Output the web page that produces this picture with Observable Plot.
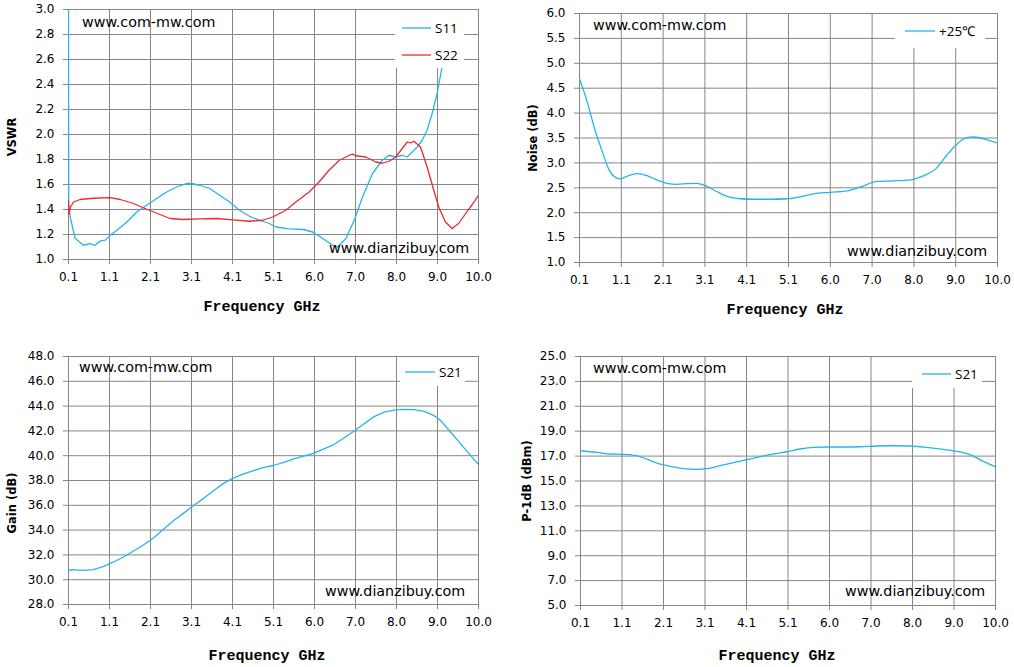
<!DOCTYPE html>
<html>
<head>
<meta charset="utf-8">
<script src="https://cdn.jsdelivr.net/npm/d3@7"></script>
<script src="https://cdn.jsdelivr.net/npm/@observablehq/plot@0.6"></script>
<style>
  html, body { margin: 0; padding: 0; background: #fff; }
  #wrap { position: relative; width: 1014px; height: 667px; overflow: hidden; background: #fff; }
  .panel { position: absolute; width: 507px; height: 333px; }
  .panel svg g[aria-label$="tick"] path { stroke: #868686; }
  .wm { font-family: "DejaVu Sans", sans-serif; font-size: 14.3px; fill: #000; }
  .xt { font-family: "Liberation Mono", monospace; font-weight: bold; font-size: 15px; fill: #000; }
  .yt { font-family: "DejaVu Sans", sans-serif; font-weight: bold; font-size: 11.5px; fill: #000; }
  .lg { font-family: "Open Sans", sans-serif; font-size: 13.5px; fill: #000; }
</style>
</head>
<body>
<div id="wrap"></div>
<script>
// ---- axis tick labels ----
const xTickLabels = ["0.1","1.1","2.1","3.1","4.1","5.1","6.0","7.0","8.0","9.0","10.0"];
const vswrTicks = [1.0,1.2,1.4,1.6,1.8,2.0,2.2,2.4,2.6,2.8,3.0];
const noiseTicks = [1.0,1.5,2.0,2.5,3.0,3.5,4.0,4.5,5.0,5.5,6.0];
const gainTicks = [28,30,32,34,36,38,40,42,44,46,48];
const p1dbTicks = [5,7,9,11,13,15,17,19,21,23,25];

// ---- VSWR ----
const s11Freq = [0.1,0.105,0.14,0.26,0.46,0.62,0.74,0.87,0.99,1.11,1.27,1.51,1.75,1.99,2.23,2.47,2.71,2.95,3.07,3.27,3.51,3.75,3.99,4.23,4.47,4.71,4.95,5.11,5.43,5.76,6.0,6.24,6.48,6.6,6.8,7.0,7.2,7.44,7.68,7.84,8.0,8.16,8.28,8.4,8.52,8.64,8.76,8.88,9.0,9.12,9.24,9.3,9.36];
const s11Vswr = [3.2,1.45,1.34,1.17,1.114,1.127,1.114,1.149,1.155,1.195,1.234,1.30,1.38,1.434,1.488,1.54,1.58,1.608,1.608,1.594,1.568,1.514,1.46,1.394,1.346,1.314,1.288,1.26,1.245,1.24,1.22,1.168,1.114,1.10,1.168,1.314,1.50,1.688,1.794,1.834,1.82,1.834,1.82,1.86,1.90,1.954,2.034,2.168,2.328,2.54,2.86,3.0,3.15];
const s22Freq = [0.1,0.105,0.15,0.22,0.38,0.7,1.11,1.35,1.67,1.99,2.31,2.55,2.87,3.27,3.67,4.07,4.47,4.79,5.03,5.35,5.59,5.91,6.15,6.39,6.64,6.88,6.96,7.04,7.28,7.52,7.68,7.84,8.0,8.16,8.28,8.36,8.44,8.6,8.76,8.92,9.04,9.2,9.36,9.52,9.69,9.85,10.0];
const s22Vswr = [1.47,1.36,1.42,1.46,1.48,1.49,1.495,1.48,1.448,1.402,1.36,1.328,1.32,1.325,1.328,1.317,1.306,1.314,1.34,1.394,1.46,1.54,1.62,1.714,1.794,1.834,1.843,1.83,1.82,1.78,1.77,1.786,1.82,1.888,1.94,1.932,1.946,1.90,1.74,1.554,1.42,1.30,1.248,1.288,1.368,1.44,1.514];

// ---- Noise ----
const noiseFreq = [0.1,0.27,0.47,0.63,0.79,0.95,1.06,1.22,1.46,1.70,1.93,2.17,2.41,2.65,2.88,3.12,3.36,3.59,3.91,4.23,4.62,5.02,5.33,5.65,6.05,6.44,6.76,7.15,7.55,7.94,8.26,8.54,8.73,8.97,9.2,9.4,9.6,9.84,10.0];
const noiseDb = [4.69,4.26,3.65,3.25,2.88,2.71,2.68,2.73,2.785,2.745,2.66,2.59,2.57,2.585,2.59,2.53,2.42,2.33,2.28,2.27,2.27,2.28,2.32,2.38,2.41,2.44,2.52,2.63,2.64,2.66,2.745,2.88,3.08,3.32,3.48,3.52,3.50,3.44,3.40];

// ---- Gain ----
const gainFreq = [0.1,0.18,0.46,0.70,0.95,1.19,1.43,1.67,1.91,2.16,2.40,2.64,2.88,3.12,3.37,3.61,3.85,4.09,4.33,4.57,4.82,5.06,5.30,5.54,5.78,6.03,6.27,6.51,6.75,6.99,7.23,7.48,7.72,7.96,8.20,8.44,8.69,8.93,9.09,9.33,9.57,9.81,10.0];
const gainDb = [30.71,30.82,30.76,30.82,31.08,31.43,31.83,32.32,32.8,33.39,34.09,34.78,35.37,35.99,36.58,37.2,37.79,38.21,38.54,38.8,39.05,39.23,39.47,39.74,39.96,40.2,40.55,40.9,41.43,41.97,42.56,43.15,43.52,43.68,43.74,43.71,43.58,43.23,42.83,41.89,40.95,40.01,39.29];

// ---- P-1dB ----
const p1dbFreq = [0.1,0.49,0.81,1.13,1.44,1.68,1.92,2.24,2.56,2.88,3.11,3.43,3.75,4.07,4.39,4.70,5.02,5.34,5.66,5.98,6.37,6.77,7.17,7.57,7.96,8.36,8.76,9.08,9.39,9.71,10.0];
const p1dbDbm = [17.43,17.3,17.17,17.14,17.03,16.76,16.44,16.18,15.99,15.94,15.99,16.23,16.47,16.71,16.95,17.17,17.35,17.57,17.7,17.73,17.73,17.75,17.81,17.83,17.81,17.7,17.54,17.38,17.11,16.58,16.15];

const CYAN = "#27b4ea", RED = "#ee2a2a", GRID = "#868686";

// evenly spaced category-like ticks from 0.1 to 10 GHz
const xTicks = xTickLabels.map((_, i) => 0.1 + i * 0.99);
const xLabelOf = new Map(xTicks.map((t, i) => [t, xTickLabels[i]]));
const zip = (xs, ys) => xs.map((x, i) => ({x, y: ys[i]}));

function panel({left, top, margins, yTicks, yFmt, series, curve, legend, wm, xTitle, yTitle}) {
  const [mt, mr, mb, ml] = margins;
  const marks = [
    Plot.gridX(xTicks, {stroke: GRID, strokeOpacity: 1, strokeWidth: 1}),
    Plot.gridY(yTicks, {stroke: GRID, strokeOpacity: 1, strokeWidth: 1}),
    Plot.axisX(xTicks, {tickSize: 5, tickPadding: 8, tickFormat: d => xLabelOf.get(d), fontSize: 12, label: null}),
    Plot.axisY(yTicks, {tickSize: 5, tickPadding: 9, tickFormat: yFmt, fontSize: 12, label: null}),
    ...series.map(s => Plot.line(zip(s.x, s.y), {x: "x", y: "y", stroke: s.color, strokeWidth: 1.3, curve, clip: true}))
  ];
  const svg = Plot.plot({
    width: 507, height: 333,
    marginTop: mt, marginRight: mr, marginBottom: mb, marginLeft: ml,
    x: {domain: [0.1, 10], axis: null, label: null},
    y: {domain: [yTicks[0], yTicks[yTicks.length - 1]], axis: null, label: null},
    style: {fontFamily: "DejaVu Sans, sans-serif", fontSize: "12px", color: "#000", background: "transparent", overflow: "visible"},
    marks
  });
  const div = document.createElement("div");
  div.className = "panel";
  div.style.left = left + "px";
  div.style.top = top + "px";
  div.appendChild(svg);
  document.getElementById("wrap").appendChild(div);

  const g = d3.select(svg).append("g").attr("text-anchor", "start");
  // legend box
  g.append("rect").attr("x", legend.box[0]).attr("y", legend.box[1])
    .attr("width", legend.box[2]).attr("height", legend.box[3]).attr("fill", "#fff");
  legend.items.forEach(it => {
    g.append("line").attr("x1", it.x1).attr("x2", it.x2).attr("y1", it.y).attr("y2", it.y)
      .attr("stroke", it.color).attr("stroke-width", 1.3);
    g.append("text").attr("class", "lg").attr("text-anchor", "start").attr("x", it.x2 + 4).attr("y", it.y).attr("dy", "0.35em").text(it.label);
  });
  // watermarks
  g.append("text").attr("class", "wm").attr("text-anchor", "start").attr("x", wm[0][0]).attr("y", wm[0][1]).attr("dy", "0.35em").text("www.com-mw.com");
  g.append("text").attr("class", "wm").attr("text-anchor", "start").attr("x", wm[1][0]).attr("y", wm[1][1]).attr("dy", "0.35em").text("www.dianzibuy.com");
  // axis titles
  g.append("text").attr("class", "xt").attr("x", xTitle[0]).attr("y", xTitle[1]).attr("dy", "0.35em")
    .attr("text-anchor", "middle").text("Frequency GHz");
  g.append("text").attr("class", "yt").attr("transform", `translate(${yTitle[0]},${yTitle[1]}) rotate(-90)`)
    .attr("dy", "0.35em").attr("text-anchor", "middle").text(yTitle[2]);
}

panel({
  left: 0, top: 0, margins: [9, 29, 74, 68],
  yTicks: vswrTicks, yFmt: d3.format(".1f"), curve: "linear",
  series: [{x: s11Freq, y: s11Vswr, color: CYAN}, {x: s22Freq, y: s22Vswr, color: RED}],
  legend: {box: [395, 10, 69, 58], items: [
    {x1: 402, x2: 431, y: 28, color: CYAN, label: "S11"},
    {x1: 402, x2: 431, y: 55, color: RED, label: "S22"}]},
  wm: [[82, 22], [329, 248]],
  xTitle: [262, 306], yTitle: [12, 137, "VSWR"]
});

panel({
  left: 507, top: 0, margins: [13, 17, 71, 72],
  yTicks: noiseTicks, yFmt: d3.format(".1f"), curve: "monotone-x",
  series: [{x: noiseFreq, y: noiseDb, color: CYAN}],
  legend: {box: [388, 14, 90, 34], items: [
    {x1: 398, x2: 428, y: 31, color: CYAN, label: "+25℃"}]},
  wm: [[86, 25], [340, 251]],
  xTitle: [278, 309], yTitle: [26, 138, "Noise (dB)"]
});

panel({
  left: 0, top: 334, margins: [22, 29, 63, 68],
  yTicks: gainTicks, yFmt: d3.format(".1f"), curve: "linear",
  series: [{x: gainFreq, y: gainDb, color: CYAN}],
  legend: {box: [400, 23, 65, 29], items: [
    {x1: 405, x2: 435, y: 38, color: CYAN, label: "S21"}]},
  wm: [[79, 33], [325, 257]],
  xTitle: [267, 321], yTitle: [12, 169, "Gain (dB)"]
});

panel({
  left: 507, top: 334, margins: [22, 19, 62, 73],
  yTicks: p1dbTicks, yFmt: d3.format(".1f"), curve: "monotone-x",
  series: [{x: p1dbFreq, y: p1dbDbm, color: CYAN}],
  legend: {box: [405, 23, 70, 31], items: [
    {x1: 415, x2: 444, y: 40, color: CYAN, label: "S21"}]},
  wm: [[86, 34], [338, 257]],
  xTitle: [270, 321], yTitle: [20, 147, "P-1dB (dBm)"]
});
</script>
</body>
</html>
